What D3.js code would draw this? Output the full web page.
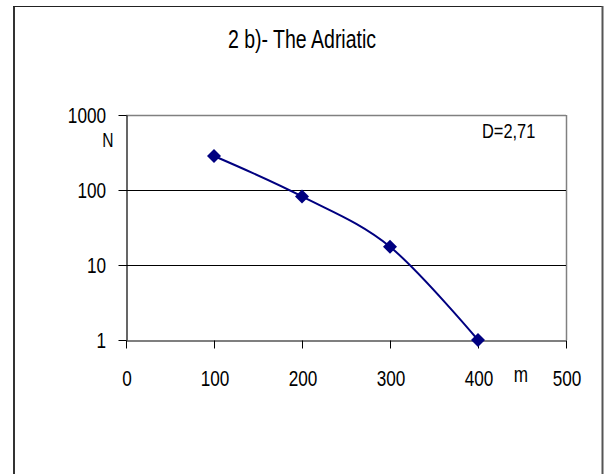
<!DOCTYPE html>
<html>
<head>
<meta charset="utf-8">
<script src="https://cdn.jsdelivr.net/npm/d3@7"></script>
<style>
  html, body { margin: 0; padding: 0; background: #fff; }
  svg { display: block; }
  text { font-family: "Liberation Sans", Arial, sans-serif; fill: #000; }
</style>
</head>
<body>
<svg id="chart" width="604" height="474"></svg>
<script>
// ---- data ----
const depths = [100, 200, 300, 400];          // m
const counts = [284, 82, 17.5, 1];            // N
const xTicks = [0, 100, 200, 300, 400, 500];
const yTicks = [1, 10, 100, 1000];
const yTickLabels = ["1", "10", "100", "1000"];
const title = "2 b)- The Adriatic";
const xUnit = "m";
const yUnit = "N";
const note = "D=2,71";

const svg = d3.select("#chart");
const SX = 0.78;  // condensed look of the original typeface

const x = d3.scaleLinear().domain([0, 500]).range([126, 566]);
const y = d3.scaleLog().domain([1, 1000]).range([340, 115]);

// outer frame
svg.append("line").attr("x1", 14).attr("x2", 14).attr("y1", 6).attr("y2", 474)
  .attr("stroke", "#333").attr("stroke-width", 2);
svg.append("line").attr("x1", 13).attr("x2", 603).attr("y1", 6.5).attr("y2", 6.5)
  .attr("stroke", "#222").attr("stroke-width", 1);
svg.append("line").attr("x1", 602.5).attr("x2", 602.5).attr("y1", 6).attr("y2", 474)
  .attr("stroke", "#555").attr("stroke-width", 2);

function label(txt, px, py, size, anchor) {
  svg.append("text")
    .attr("transform", `translate(${px},${py}) scale(${SX},1)`)
    .attr("text-anchor", anchor || "middle")
    .attr("font-size", size)
    .text(txt);
}

// title
label(title, 302, 48, 25);

// plot-area border (top and right, grey)
svg.append("line").attr("x1", x(0)).attr("x2", x(500)).attr("y1", y(1000) + 0.5).attr("y2", y(1000) + 0.5)
  .attr("stroke", "#808080").attr("stroke-width", 1.5);
svg.append("line").attr("x1", x(500) + 0.5).attr("x2", x(500) + 0.5).attr("y1", y(1000)).attr("y2", y(1))
  .attr("stroke", "#808080").attr("stroke-width", 1.5);

// gridlines
svg.append("g").selectAll("line").data(yTicks.filter(d => d > 1 && d < 1000)).join("line")
  .attr("x1", x(0)).attr("x2", x(500))
  .attr("y1", d => Math.round(y(d)) + 0.5).attr("y2", d => Math.round(y(d)) + 0.5)
  .attr("stroke", "#000").attr("stroke-width", 1);

// axes
const gx = svg.append("g").attr("transform", `translate(0,${y(1) + 0.5})`)
  .call(d3.axisBottom(x).tickValues(xTicks).tickFormat("").tickSize(8).tickSizeOuter(0));
const gy = svg.append("g").attr("transform", `translate(${x(0) + 0.5},0)`)
  .call(d3.axisLeft(y).tickValues(yTicks).tickFormat("").tickSize(8).tickSizeOuter(0));
[gx, gy].forEach(g => {
  g.select(".domain").attr("stroke", "#000").attr("stroke-width", 1.2);
  g.selectAll(".tick line").attr("stroke", "#000").attr("stroke-width", 1);
});

// tick labels
xTicks.forEach(t => label(String(t), x(t) + 1, 386, 22));
yTicks.forEach((t, i) => label(yTickLabels[i], 106, y(t) + 7.5, 22, "end"));

// unit labels and note
label(yUnit, 108, 147, 20);
label(xUnit, 521, 382, 22);
label(note, 482, 138, 21, "start");

// series
const pts = depths.map((d, i) => [x(d), y(counts[i])]);
svg.append("path")
  .attr("d", d3.line().curve(d3.curveCatmullRom.alpha(0))(pts))
  .attr("fill", "none").attr("stroke", "#000080").attr("stroke-width", 2);

svg.append("g").selectAll("path").data(pts).join("path")
  .attr("transform", d => `translate(${d[0]},${d[1]})`)
  .attr("d", "M0,-7L7,0L0,7L-7,0Z")
  .attr("fill", "#000080");
</script>
</body>
</html>
